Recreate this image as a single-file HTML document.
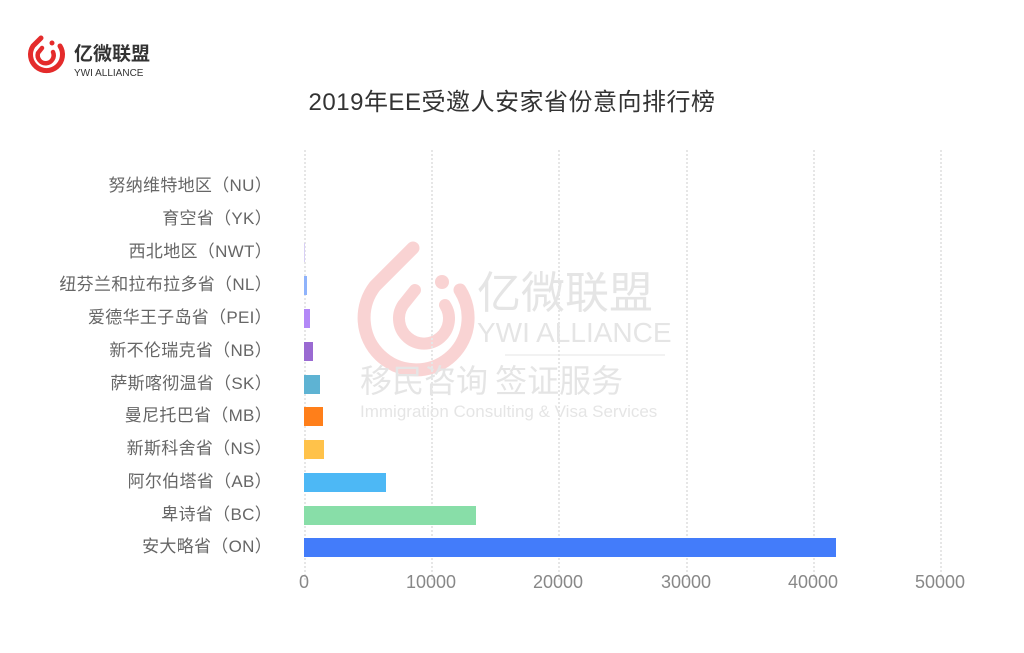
<!DOCTYPE html>
<html><head><meta charset="utf-8"><style>
body{margin:0;width:1024px;height:653px;background:#fff;overflow:hidden;position:relative;font-family:"Liberation Sans","Noto Sans CJK SC",sans-serif}
.lab{position:absolute;right:752px;font-size:17px;color:#666;white-space:nowrap;line-height:20px;letter-spacing:0.3px}
.bar{position:absolute;left:304px;height:19px}
.tick{position:absolute;top:572px;font-size:18px;color:#888;transform:translateX(-50%)}
.grid{position:absolute;top:150px;height:430px;border-left:2px dotted #e6e6e6}
</style></head><body>
<svg style="position:absolute;left:24px;top:26px" width="140" height="60">
<path d="M17 12 L9 20 A16 16 0 1 0 36 20" stroke="#e42b2b" stroke-width="5" fill="none" stroke-linecap="round"/>
<path d="M18 22 L14 27 A8 8 0 1 0 29 26" stroke="#e42b2b" stroke-width="4.5" fill="none" stroke-linecap="round"/>
<circle cx="28" cy="17" r="2.5" fill="#e42b2b"/>
<text x="50" y="34" font-size="19" font-weight="bold" fill="#333" font-family="Noto Sans CJK SC,sans-serif">亿微联盟</text>
<text x="50" y="50" font-size="10" fill="#333" font-family="Liberation Sans,sans-serif">YWI ALLIANCE</text>
</svg>
<div style="position:absolute;left:0;width:1024px;top:82px;text-align:center;font-size:24px;color:#333;letter-spacing:0.5px">2019年EE受邀人安家省份意向排行榜</div>
<svg style="position:absolute;left:355px;top:230px" width="320" height="200" opacity="0.5">
<path d="M58 18 L20 56 A52 52 0 1 0 105 60" stroke="#f4a8a8" stroke-width="13" fill="none" stroke-linecap="round"/>
<path d="M60 60 L48 75 A25 25 0 1 0 90 75" stroke="#f4a8a8" stroke-width="12" fill="none" stroke-linecap="round"/>
<circle cx="87" cy="52" r="7" fill="#f4a8a8"/>
<text x="122" y="78" font-size="44" fill="#ccc" font-family="Noto Sans CJK SC,sans-serif">亿微联盟</text>
<text x="122" y="112" font-size="28" fill="#ccc" font-family="Liberation Sans,sans-serif">YWI ALLIANCE</text>
<line x1="150" y1="125" x2="310" y2="125" stroke="#ccc"/>
<text x="5" y="162" font-size="32" fill="#ccc" font-family="Noto Sans CJK SC,sans-serif">移民咨询 签证服务</text>
<text x="5" y="187" font-size="17" fill="#ccc" font-family="Liberation Sans,sans-serif">Immigration Consulting &amp; Visa Services</text>
</svg>
<div class="grid" style="left:304px"></div><div class="grid" style="left:431px"></div><div class="grid" style="left:558px"></div><div class="grid" style="left:686px"></div><div class="grid" style="left:813px"></div><div class="grid" style="left:940px"></div>
<div class="lab" style="top:176px">努纳维特地区（NU）</div>
<div class="lab" style="top:209px">育空省（YK）</div>
<div class="lab" style="top:242px">西北地区（NWT）</div>
<div class="lab" style="top:275px">纽芬兰和拉布拉多省（NL）</div>
<div class="lab" style="top:308px">爱德华王子岛省（PEI）</div>
<div class="lab" style="top:341px">新不伦瑞克省（NB）</div>
<div class="lab" style="top:374px">萨斯喀彻温省（SK）</div>
<div class="lab" style="top:406px">曼尼托巴省（MB）</div>
<div class="lab" style="top:439px">新斯科舍省（NS）</div>
<div class="lab" style="top:472px">阿尔伯塔省（AB）</div>
<div class="lab" style="top:505px">卑诗省（BC）</div>
<div class="lab" style="top:537px">安大略省（ON）</div>
<div class="bar" style="top:243px;width:1px;background:#d8d0f5"></div>
<div class="bar" style="top:276px;width:3px;background:#8fb3fb"></div>
<div class="bar" style="top:309px;width:6px;background:#b388f7"></div>
<div class="bar" style="top:342px;width:9px;background:#9a6ad2"></div>
<div class="bar" style="top:375px;width:16px;background:#5eb3d3"></div>
<div class="bar" style="top:407px;width:19px;background:#ff7f1a"></div>
<div class="bar" style="top:440px;width:20px;background:#ffc24a"></div>
<div class="bar" style="top:473px;width:82px;background:#4db8f5"></div>
<div class="bar" style="top:506px;width:172px;background:#88dea8"></div>
<div class="bar" style="top:538px;width:532px;background:#437cfa"></div>
<div class="tick" style="left:304px">0</div>
<div class="tick" style="left:431px">10000</div>
<div class="tick" style="left:558px">20000</div>
<div class="tick" style="left:686px">30000</div>
<div class="tick" style="left:813px">40000</div>
<div class="tick" style="left:940px">50000</div>
</body></html>
